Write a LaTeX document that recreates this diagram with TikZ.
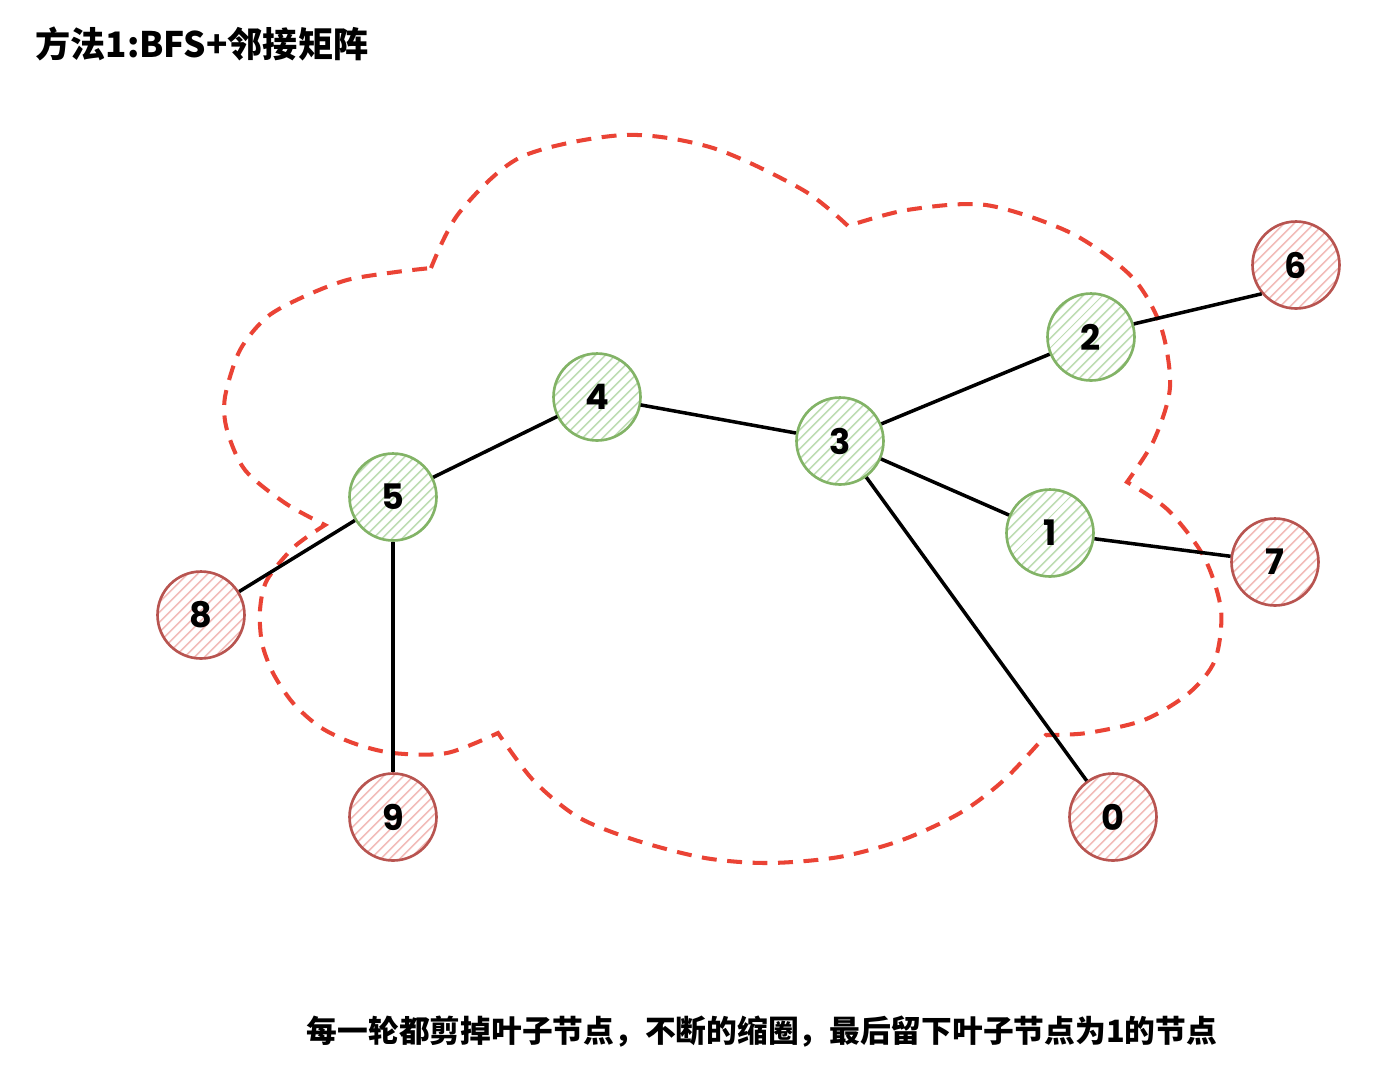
\documentclass[tikz,border=0pt]{standalone}
\usepackage{fontspec}
\setmainfont{Noto Sans CJK SC}
\newfontfamily\numfont{Poppins}
\usepackage{xcolor}
\usepackage{tikz}
\usetikzlibrary{patterns.meta}
\definecolor{keepgreen}{HTML}{82B366}
\definecolor{keepgreenfill}{HTML}{BFDDB4}
\definecolor{leafred}{HTML}{B85450}
\definecolor{leafredfill}{HTML}{F2BDBA}
\definecolor{cloudred}{HTML}{EA4335}
\tikzstyle{keepnode} = [circle, minimum size=1.74cm, line width=1.5pt, draw=keepgreen, preaction={fill=white}, pattern={Lines[angle=45,distance=4pt,line width=1pt]}, pattern color=keepgreenfill, font=\numfont\bfseries\fontsize{20}{23}\selectfont]
\tikzstyle{leafnode} = [circle, minimum size=1.74cm, line width=1.5pt, draw=leafred, preaction={fill=white}, pattern={Lines[angle=45,distance=4pt,line width=1pt]}, pattern color=leafredfill, font=\numfont\bfseries\fontsize{20}{23}\selectfont]
\tikzstyle{link} = [line width=2pt, black]
\tikzstyle{cloudline} = [line width=2.3pt, cloudred, dash pattern=on 8.5pt off 6pt]
\tikzstyle{caption} = [inner sep=0pt, font=\bfseries\fontsize{17.5}{20}\selectfont]

\begin{document}
\begin{tikzpicture}[x=0.02cm, y=-0.02cm]
\useasboundingbox (0,0) rectangle (1394,1090);

\node (title) [caption, anchor=west, font=\bfseries\fontsize{20}{24}\selectfont] at (35,44) {方法1:BFS+邻接矩阵};

\draw [cloudline] plot[smooth] coordinates {(431,268) (459,213) (521,157) (624,135) (713,148) (803,190) (848,226)}
  -- plot[smooth] coordinates {(848,226) (907,210) (986,205) (1071,233) (1132,277) (1161,327) (1170,387) (1154,440) (1127,482)}
  -- plot[smooth] coordinates {(1127,482) (1168,510) (1204,557) (1221,610) (1215,660) (1189,693) (1144,720) (1087,733) (1046,735)}
  -- plot[smooth] coordinates {(1046,735) (1004,780) (960,813) (902,840) (839,857) (769,863) (705,858) (635,840) (578,817) (533,780) (498,733)}
  -- plot[smooth] coordinates {(498,733) (447,753) (393,753) (353,743) (320,727) (293,703) (273,673) (262,643) (260,610) (267,580) (294,547) (325,525)}
  -- plot[smooth] coordinates {(325,525) (285,503) (245,470) (227,430) (225,397) (240,350) (267,317) (303,297) (347,280) (396,272) (431,268)}
  -- cycle;

\node (n4) [keepnode] at (597,397) {4};
\node (n3) [keepnode] at (840,441) {3};
\node (n5) [keepnode] at (393,497) {5};
\node (n2) [keepnode] at (1091,337) {2};
\node (n1) [keepnode] at (1050,533) {1};
\node (n6) [leafnode] at (1296,265) {6};
\node (n7) [leafnode] at (1275,562) {7};
\node (n8) [leafnode] at (201,615) {8};
\node (n9) [leafnode] at (393,817) {9};
\node (n0) [leafnode] at (1113,817) {0};

\draw [link] (n5) -- (n4);
\draw [link] (n4) -- (n3);
\draw [link] (n3) -- (n2);
\draw [link] (n2.17) -- (n6.-140);
\draw [link] (n3) -- (n1);
\draw [link] (n1) -- (n7);
\draw [link] (n3) -- (n0);
\draw [link] (n5) -- (n8);
\draw [link] (n5) -- (n9);

\node (note) [caption] at (762,1032) {每一轮都剪掉叶子节点，不断的缩圈，最后留下叶子节点为1的节点};

\end{tikzpicture}
\end{document}
